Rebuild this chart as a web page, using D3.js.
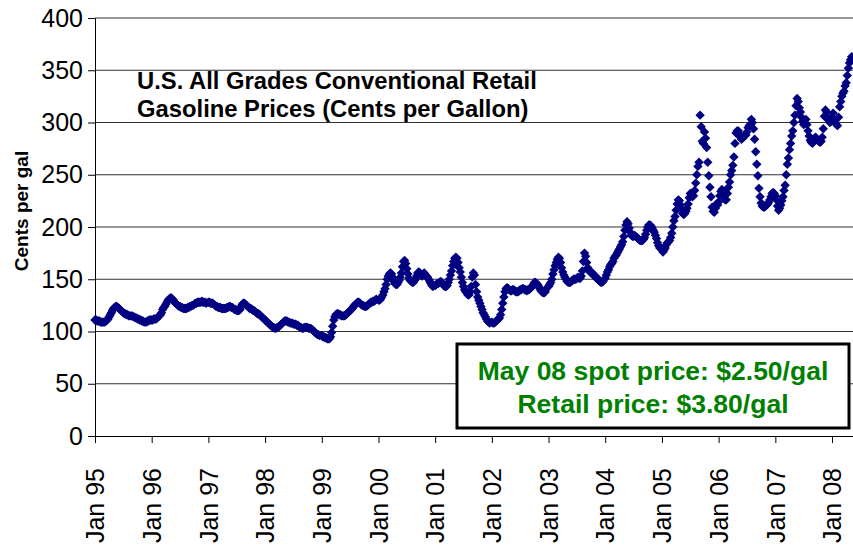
<!DOCTYPE html>
<html>
<head>
<meta charset="utf-8">
<title>U.S. All Grades Conventional Retail Gasoline Prices</title>
<script src="https://d3js.org/d3.v7.min.js"></script>
<style>
  body { margin: 0; background: #fff; }
  svg { display: block; font-family: "Liberation Sans", Arial, sans-serif; }
</style>
</head>
<body>
<div id="chart"></div>
<script>

// weekly retail prices, cents per gallon (52 per year)
var p1995 = [111,111,110,110, 110,109,109,109, 109,109,110,111,112, 114,116,118,120, 122,123,124,124, 123,122,121,120, 119,118,117,117,116, 116,115,115,115, 115,114,114,113, 113,112,112,111,111, 110,110,109,109, 109,110,110,111,111];
var p1996 = [111,111,112,112, 112,113,114,115, 116,118,121,123,124, 126,128,130,131, 132,132,131,130, 128,127,126,125, 124,124,123,123,122, 122,122,122,123, 123,124,124,125, 125,126,127,127,128, 128,128,128,129, 128,128,128,127];
var p1997 = [128,128,127,127, 127,126,125,124, 124,123,123,123,122, 122,122,122,122, 123,123,124,124, 123,123,122,121, 121,120,120,120,121, 124,126,127,127, 126,125,124,123, 122,122,121,120,120, 119,118,117,117, 116,115,114,113];
var p1998 = [111,110,109,108, 107,106,105,104, 104,103,103,104,104, 105,106,107,108, 109,110,110,110, 109,109,108,108, 108,107,107,107,106, 106,105,104,104, 103,103,104,104, 104,104,103,103,103, 102,101,100,99, 98,97,97,96];
var p1999 = [96,95,95,94, 94,93,93,93, 95,99,105,111,114, 116,117,117,116, 116,115,115,115, 115,116,117,118, 119,120,121,122,124, 125,126,127,128, 128,127,126,125, 125,124,124,124,125, 126,127,128,128, 129,129,130,131];
var p2000 = [130,130,131,133, 135,138,141,145, 150,153,155,156,155, 152,148,146,145, 145,147,149,152, 156,162,167,168, 165,160,155,151,149, 148,147,147,149, 150,153,156,157, 156,154,153,155,156, 154,153,152,150, 148,146,144,143];
var p2001 = [144,145,146,146, 147,148,147,145, 144,143,143,144,147, 150,154,158,163, 167,170,171,170, 166,161,157,152, 147,143,140,138,137, 135,135,138,143, 152,156,154,145, 138,133,130,127,124, 121,118,116,114, 112,110,109,108];
var p2002 = [109,108,108,109, 110,111,112,113, 116,121,127,133,138, 141,142,141,140, 139,139,140,140, 139,138,138,138, 139,140,140,141,141, 140,140,139,140, 140,141,142,143, 145,147,147,146,145, 143,141,139,138, 137,137,138,141];
var p2003 = [143,145,147,150, 155,159,163,166, 169,171,170,166,161, 157,154,152,150, 148,147,147,147, 148,149,150,150, 150,151,152,151,151, 153,158,167,175, 172,166,161,159, 157,156,156,155,154, 152,151,150,150, 148,147,147,148];
var p2004 = [151,154,157,159, 162,164,165,167, 170,172,173,175,177, 179,181,183,186, 191,197,202,205, 203,199,195,192, 191,191,192,191,190, 189,188,187,187, 187,188,190,193, 197,200,202,202,201, 199,197,195,192, 189,185,182,180];
var p2005 = [178,176,178,180, 183,185,186,187, 190,194,200,206,210, 216,222,226,225, 221,217,213,212, 213,215,218,222, 228,232,232,229,230, 235,242,250,258, 262,307,296,282, 280,291,285,276,262, 249,238,229,219, 215,214,218,222,221];
var p2006 = [224,230,234,236, 234,229,226,226, 232,238,243,250,254, 259,267,280,290, 292,292,289,286, 284,285,287,288, 288,291,295,297,298, 303,300,294,284, 272,260,249,237, 229,223,220,219,219, 220,221,222,224, 226,229,232,233,232];
var p2007 = [230,226,220,216, 218,221,225,229, 235,240,250,260,266, 274,280,287,292, 300,307,316,323, 320,314,310,305, 301,298,300,303,298, 292,287,283,281, 280,282,285,286, 284,283,282,281,282, 286,294,306,312, 310,305,302,300,301];
var p2008 = [305,309,303,300, 298,297,305,315, 320,325,328,330, 335,338,345,352, 357,360,363];

var years = [1995,1996,1997,1998,1999,2000,2001,2002,2003,2004,2005,2006,2007,2008];
var series = [p1995,p1996,p1997,p1998,p1999,p2000,p2001,p2002,p2003,p2004,p2005,p2006,p2007,p2008];
var yTicks = [0,50,100,150,200,250,300,350,400];

var titleLines = ["U.S. All Grades Conventional Retail", "Gasoline Prices (Cents per Gallon)"];
var noteLines = ["May 08 spot price: $2.50/gal", "Retail price: $3.80/gal"];

// flatten to weekly points
var data = [];
years.forEach(function (yr, i) {
  series[i].forEach(function (v, k) {
    data.push({ t: yr + k / 52, v: v });
  });
});

var W = 853, H = 547;
var plotL = 95, plotR = 853, plotT = 18, plotB = 436;

var svg = d3.select("#chart").append("svg")
  .attr("width", W).attr("height", H);

var x = d3.scaleLinear().domain([1995, 2008.37]).range([plotL, plotR]);
var y = d3.scaleLinear().domain([0, 400]).range([plotB, plotT]);

// gridlines
svg.append("g")
  .selectAll("line")
  .data(yTicks.filter(function (d) { return d > 0; }))
  .enter().append("line")
  .attr("x1", plotL).attr("x2", plotR)
  .attr("y1", function (d) { return y(d); })
  .attr("y2", function (d) { return y(d); })
  .attr("stroke", "#333")
  .attr("stroke-width", 1);

// y axis
var yAxis = svg.append("g")
  .attr("transform", "translate(" + plotL + ",0)")
  .call(d3.axisLeft(y).tickValues(yTicks).tickSize(7).tickPadding(5).tickFormat(d3.format("d")));
yAxis.select(".domain").attr("stroke", "#000");
yAxis.selectAll(".tick line").attr("stroke", "#000");
yAxis.selectAll("text")
  .attr("font-size", 25)
  .attr("fill", "#000")
  .attr("font-family", "Liberation Sans, Arial, sans-serif");

// x axis
var xAxis = svg.append("g")
  .attr("transform", "translate(0," + plotB + ")")
  .call(d3.axisBottom(x).tickValues(years).tickSize(7)
    .tickFormat(function (d) { return "Jan " + String(d).slice(2); }));
xAxis.select(".domain").attr("stroke", "#000");
xAxis.selectAll(".tick line").attr("stroke", "#000");
xAxis.selectAll("text")
  .attr("font-size", 25)
  .attr("fill", "#000")
  .attr("font-family", "Liberation Sans, Arial, sans-serif")
  .attr("transform", "rotate(-90)")
  .attr("text-anchor", "end")
  .attr("x", -32)
  .attr("y", 0)
  .attr("dy", "0.35em");

// markers
var diamond = d3.symbol().type(d3.symbolSquare).size(44);
svg.append("g")
  .selectAll("path")
  .data(data)
  .enter().append("path")
  .attr("d", diamond)
  .attr("transform", function (d) {
    return "translate(" + x(d.t) + "," + y(d.v) + ") rotate(45)";
  })
  .attr("fill", "#000080");

// y axis title
svg.append("text")
  .attr("transform", "translate(28,211) rotate(-90)")
  .attr("text-anchor", "middle")
  .attr("font-size", 19)
  .attr("font-weight", "bold")
  .text("Cents per gal");

// chart title inside plot
svg.append("g")
  .selectAll("text")
  .data(titleLines)
  .enter().append("text")
  .attr("x", 137)
  .attr("y", function (d, i) { return 89 + i * 28; })
  .attr("font-size", 23.8)
  .attr("font-weight", "bold")
  .text(function (d) { return d; });

// note box
svg.append("rect")
  .attr("x", 457).attr("y", 344)
  .attr("width", 392).attr("height", 84)
  .attr("fill", "#fff")
  .attr("stroke", "#000")
  .attr("stroke-width", 3);

svg.append("g")
  .selectAll("text")
  .data(noteLines)
  .enter().append("text")
  .attr("x", 653)
  .attr("y", function (d, i) { return 380 + i * 33; })
  .attr("text-anchor", "middle")
  .attr("font-size", 26.5)
  .attr("font-weight", "bold")
  .attr("fill", "#008000")
  .text(function (d) { return d; });

</script>
</body>
</html>
